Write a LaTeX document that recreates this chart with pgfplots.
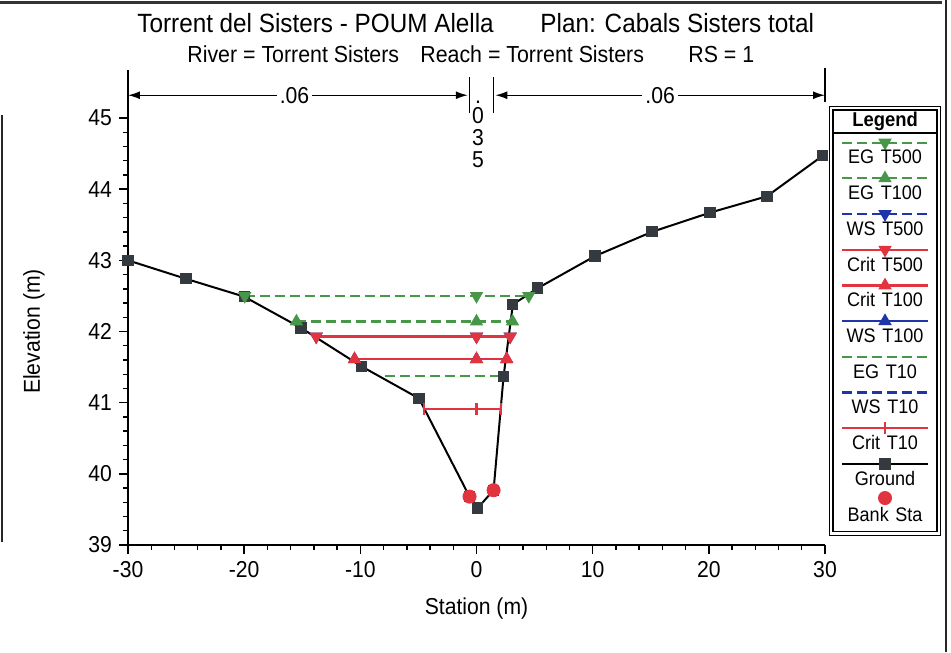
\documentclass[border=0pt]{standalone}
\usepackage{fontspec}
\setmainfont{Liberation Sans}[FakeStretch=0.92]
\usepackage{pgfplots}
\usepackage{pgfplotstable}
\pgfplotsset{compat=1.18}
\usetikzlibrary{arrows.meta}

\definecolor{egreen}{RGB}{72,150,72}
\definecolor{cred}{RGB}{226,52,62}
\definecolor{wblue}{RGB}{32,52,170}
\definecolor{gmark}{RGB}{52,58,64}

% Cross-section ground profile (station, elevation)
\pgfplotstableread{
sta   elev
-30.0 43.00
-25.0 42.74
-20.0 42.49
-15.1 42.05
-9.9  41.51
-4.95 41.06
-0.6  39.68
0.1   39.52
1.47  39.77
2.33  41.37
3.13  42.38
5.28  42.61
10.2  43.06
15.1  43.40
20.1  43.67
25.0  43.90
29.8  44.47
}\ground

% Bank stations
\pgfplotstableread{
sta  elev
-0.6 39.68
1.47 39.77
}\bank

\pgfplotsset{
  legline/.style={legend image code/.code={%
      \draw[overlay,mark repeat=2,mark phase=2,##1]
        plot coordinates {(3pt,5.6pt) (24.5pt,5.6pt) (46pt,5.6pt)};}},
  legdot/.style={legend image code/.code={%
      \draw[overlay,##1] plot coordinates {(24.5pt,6.4pt)};}},
  egline/.style={egreen, line width=1.1pt, dash pattern=on 5pt off 2.5pt},
  wsdash/.style={wblue, line width=1.1pt, dash pattern=on 5pt off 2.5pt},
  wsline/.style={wblue, line width=1.1pt},
  crline/.style={cred, line width=1.1pt},
  dtri/.style={mark=triangle*, mark size=2.8pt, mark options={solid, rotate=180, fill=#1, draw=#1}},
  utri/.style={mark=triangle*, mark size=2.8pt, mark options={solid, fill=#1, draw=#1}},
}

\begin{document}
\begin{tikzpicture}
\useasboundingbox (-64pt,-53.5pt) rectangle (411.5pt,272.5pt);
\begin{axis}[
  at={(0pt,0pt)}, anchor=south west,
  scale only axis, width=348.5pt, height=213.5pt,
  xmin=-30, xmax=30, ymin=39, ymax=45,
  axis x line*=bottom, axis y line*=left,
  axis line style={line width=1pt, black},
  xtick={-30,-20,...,30}, ytick={39,40,...,45},
  minor tick num=4,
  tick align=outside,
  major tick length=4.5pt, minor tick length=2.6pt,
  tick style={black, line width=0.7pt},
  ticklabel style={font=\fontsize{11.5}{12}\selectfont},
  /pgf/number format/assume math mode=true,
  xlabel={Station (m)}, ylabel={Elevation (m)},
  label style={font=\fontsize{11.5}{13}\selectfont},
  xlabel style={at={(axis description cs:0.5,-0.1616)}, anchor=base},
  ylabel style={at={(axis description cs:-0.1263,0.5)}, anchor=base},
  clip=false,
  legend cell align=center,
  legend style={
    name=leg,
    at={(axis description cs:1.0115,0.9649)}, anchor=north west,
    draw=black, line width=0.6pt,
    fill=white, inner sep=1.5pt, outer sep=0pt,
    row sep=0pt, column sep=0pt,
    /tikz/every even column/.style={column sep=0pt},
    font=\fontsize{9.8}{10}\selectfont,
    nodes={inner sep=0pt, text width=49pt, align=center,
           text height=14pt, text depth=3.85pt},
  },
]
% legend entries, in the order of the key
\addlegendimage{legline, egline, dtri=egreen}
\addlegendentry{EG T500}
\addlegendimage{legline, egline, utri=egreen}
\addlegendentry{EG T100}
\addlegendimage{legline, wsdash, dtri=wblue}
\addlegendentry{WS T500}
\addlegendimage{legline, crline, dtri=cred}
\addlegendentry{Crit T500}
\addlegendimage{legline, crline, utri=cred}
\addlegendentry{Crit T100}
\addlegendimage{legline, wsline, utri=wblue}
\addlegendentry{WS T100}
\addlegendimage{legline, egline}
\addlegendentry{EG T10}
\addlegendimage{legline, wsdash}
\addlegendentry{WS T10}
\addlegendimage{legline, crline, mark=|, mark size=3pt, mark options={solid}}
\addlegendentry{Crit T10}
\addlegendimage{legline, black, line width=1pt, mark=square*, mark size=2.3pt, mark options={fill=gmark, draw=gmark}}
\addlegendentry{Ground}
\addlegendimage{legdot, only marks, mark=*, mark size=3.2pt, mark options={fill=cred, draw=cred}}
\addlegendentry{Bank Sta}

% ground and bank stations
\addplot[forget plot, black, line width=1pt, mark=square*, mark size=2.3pt,
  mark options={fill=gmark, draw=gmark}] table[x=sta, y=elev] {\ground};
\addplot[forget plot, only marks, mark=*, mark size=3.3pt,
  mark options={fill=cred, draw=cred}] table[x=sta, y=elev] {\bank};

% water surface, critical depth and energy grade lines
\addplot[forget plot, egline] coordinates {(-7.9,41.37) (2.3,41.37)};
\addplot[forget plot, wsdash] coordinates {(-4.5,40.91) (2.1,40.91)};
\addplot[forget plot, crline, mark=|, mark size=3pt, mark options={solid}]
  coordinates {(-4.5,40.91) (0,40.91) (2.1,40.91)};
\addplot[forget plot, wsline, utri=wblue] coordinates {(-10.5,41.61) (0,41.61) (2.6,41.61)};
\addplot[forget plot, crline, utri=cred] coordinates {(-10.5,41.61) (0,41.61) (2.6,41.61)};
\addplot[forget plot, egline, utri=egreen] coordinates {(-15.5,42.14) (0,42.14) (3.1,42.14)};
\addplot[forget plot, wsdash, dtri=wblue] coordinates {(-13.8,41.93) (0,41.93) (2.9,41.93)};
\addplot[forget plot, crline, dtri=cred] coordinates {(-13.8,41.93) (0,41.93) (2.9,41.93)};
\addplot[forget plot, egline, dtri=egreen] coordinates {(-19.95,42.50) (0,42.50) (4.5,42.50)};

% Manning's n zones
\draw[line width=0.8pt] (axis cs:-30,45) -- (axis cs:-30,45.68);
\draw[line width=0.8pt] (axis cs:-0.6,45.07) -- (axis cs:-0.6,45.57);
\draw[line width=0.8pt] (axis cs:1.47,45.07) -- (axis cs:1.47,45.57);
\draw[line width=0.8pt] (axis cs:30,45.22) -- (axis cs:30,45.70);
\draw[line width=0.7pt, {Latex[length=6pt,width=4pt]}-{Latex[length=6pt,width=4pt]}]
  (axis cs:-30,45.32) -- (axis cs:-0.75,45.32)
  node[pos=0.49, fill=white, inner sep=1.5pt, font=\fontsize{11.5}{12}\selectfont] {.06};
\draw[line width=0.7pt, {Latex[length=6pt,width=4pt]}-{Latex[length=6pt,width=4pt]}]
  (axis cs:1.62,45.32) -- (axis cs:30,45.32)
  node[pos=0.5, fill=white, inner sep=1.5pt, font=\fontsize{11.5}{12}\selectfont] {.06};
\node[anchor=base, inner sep=0pt, font=\fontsize{11.5}{12}\selectfont] at (axis cs:0.13,45.21) {.};
\node[anchor=base, inner sep=0pt, font=\fontsize{11.5}{12}\selectfont] at (axis cs:0.13,44.92) {0};
\node[anchor=base, inner sep=0pt, font=\fontsize{11.5}{12}\selectfont] at (axis cs:0.13,44.61) {3};
\node[anchor=base, inner sep=0pt, font=\fontsize{11.5}{12}\selectfont] at (axis cs:0.13,44.30) {5};
\end{axis}

% legend header and outer border
\node[draw=black, line width=0.6pt, fill=white, minimum width=52pt,
  minimum height=11.5pt, inner sep=0pt, outer sep=0pt, anchor=south,
  font=\bfseries\fontsize{10}{11}\selectfont] (hdr) at (leg.north) {Legend};
\draw[line width=0.6pt] ([shift={(-1.7pt,-1.7pt)}]leg.south west)
  rectangle ([shift={(1.7pt,1.7pt)}]hdr.north east);

% titles
\node[anchor=base west, inner sep=0pt, font=\fontsize{13.2}{14}\selectfont]
  at (4.5pt,256pt) {Torrent del Sisters - POUM Alella};
\node[anchor=base west, inner sep=0pt, font=\fontsize{13.2}{14}\selectfont]
  at (206pt,256pt) {Plan: Cabals Sisters total};
\node[anchor=base west, inner sep=0pt, font=\fontsize{11.6}{13}\selectfont]
  at (29.5pt,241pt) {River = Torrent Sisters};
\node[anchor=base west, inner sep=0pt, font=\fontsize{11.6}{13}\selectfont]
  at (146pt,241pt) {Reach = Torrent Sisters};
\node[anchor=base west, inner sep=0pt, font=\fontsize{11.6}{13}\selectfont]
  at (280pt,241pt) {RS = 1};

% outer frame
\draw[line width=1.3pt, black!80] (-64pt,271.3pt) -- (407pt,271.3pt);
\draw[line width=0.8pt, black!85] (409pt,272.5pt) -- (409pt,-53.5pt);
\draw[line width=0.8pt, black!85] (-63pt,215pt) -- (-63pt,1.5pt);
\end{tikzpicture}
\end{document}
